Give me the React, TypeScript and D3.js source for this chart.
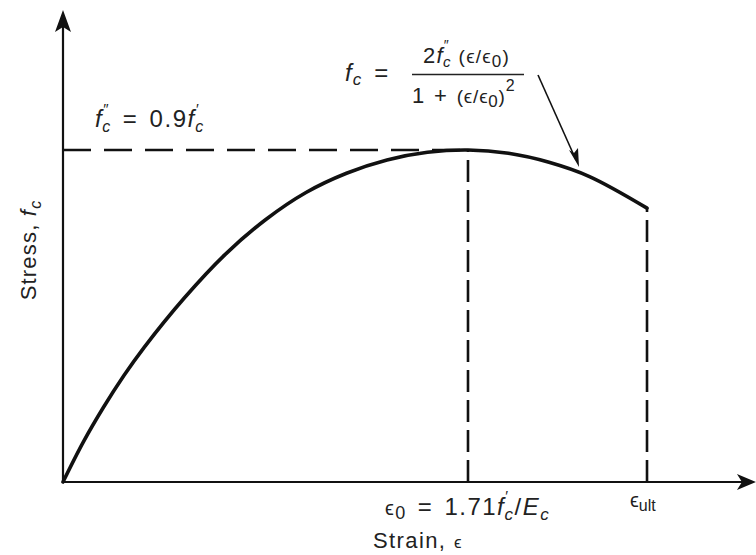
import React from "react";
import * as d3 from "d3";

// Normalised strain (ε/ε0) and stress (fc/f″c) along the curve
const strainRatio = [0, 0.05, 0.1, 0.15, 0.2, 0.3, 0.4, 0.5, 0.6, 0.7, 0.8, 0.9, 1.0, 1.1, 1.2, 1.3, 1.442];
const stressRatio = [0, 0.12, 0.225, 0.32, 0.405, 0.555, 0.685, 0.79, 0.872, 0.93, 0.97, 0.993, 1.0, 0.99, 0.963, 0.92, 0.825];

const peakStrain = 1.0;
const peakStress = 1.0;
const ultStrain = 1.442;
const ultStress = 0.825;

const xAxisMax = 1.711;
const yAxisMax = 1.422;

const W = 756;
const H = 555;

const FONT = "'Liberation Sans', Arial, Helvetica, sans-serif";
const EPS = "\u03F5";

export default function App() {
  const x = d3.scaleLinear().domain([0, 1]).range([63, 468]);
  const y = d3.scaleLinear().domain([0, 1]).range([482, 150]);

  const pts: [number, number][] = strainRatio.map((r, i) => [r, stressRatio[i]]);
  const line = d3
    .line<[number, number]>()
    .x((d) => x(d[0]))
    .y((d) => y(d[1]))
    .curve(d3.curveCatmullRom.alpha(0.5));

  const x0 = x(0);
  const y0 = y(0);
  const xEnd = x(xAxisMax);
  const yTop = y(yAxisMax);

  const ink = "#111";
  const txt = "#222";

  return (
    <svg
      width={W}
      height={H}
      viewBox={`0 0 ${W} ${H}`}
      style={{ position: "absolute", left: 0, top: 0, background: "#fff" }}
      fontFamily={FONT}
    >
      <rect width={W} height={H} fill="#fff" />

      {/* axes */}
      <line x1={x0} y1={y0} x2={xEnd - 12} y2={y0} stroke={ink} strokeWidth={2.2} />
      <line x1={x0} y1={y0} x2={x0} y2={yTop + 12} stroke={ink} strokeWidth={2.2} />
      <path
        d={`M${xEnd},${y0} L${xEnd - 19},${y0 - 8} L${xEnd - 14},${y0} L${xEnd - 19},${y0 + 8} Z`}
        fill={ink}
      />
      <path
        d={`M${x0},${yTop} L${x0 - 8},${yTop + 22} L${x0},${yTop + 17} L${x0 + 8},${yTop + 22} Z`}
        fill={ink}
      />

      {/* reference dashed lines */}
      <line
        x1={x0}
        y1={y(peakStress)}
        x2={x(peakStrain)}
        y2={y(peakStress)}
        stroke={ink}
        strokeWidth={2.6}
        strokeDasharray="28 13"
      />
      <line
        x1={x(peakStrain)}
        y1={y0}
        x2={x(peakStrain)}
        y2={y(peakStress)}
        stroke={ink}
        strokeWidth={2.6}
        strokeDasharray="22 8"
      />
      <line
        x1={x(ultStrain)}
        y1={y0}
        x2={x(ultStrain)}
        y2={y(ultStress)}
        stroke={ink}
        strokeWidth={2.6}
        strokeDasharray="22 8"
      />

      {/* stress-strain curve */}
      <path d={line(pts) ?? ""} fill="none" stroke={ink} strokeWidth={3.6} strokeLinecap="round" />

      {/* leader arrow from the equation to the curve */}
      <line x1={538} y1={75} x2={576} y2={160} stroke={ink} strokeWidth={1.6} />
      <path d="M579,167 L569,150 L574,153 L578,148 Z" fill={ink} />

      {/* peak stress label */}
      <text x={95} y={127} fontSize={24} fill={txt} letterSpacing={1.6}>
        <tspan fontStyle="italic">f</tspan>
        <tspan fontSize={15} dy={-13}>″</tspan>
        <tspan fontStyle="italic" fontSize={16} dx={-8} dy={18}>c</tspan>
        <tspan dy={-5} dx={11}>=</tspan>
        <tspan dx={11}>0.9</tspan>
        <tspan fontStyle="italic">f</tspan>
        <tspan fontSize={15} dy={-13}>′</tspan>
        <tspan fontStyle="italic" fontSize={16} dx={-5} dy={18}>c</tspan>
      </text>

      {/* equation */}
      <text x={345} y={81} fontSize={24} fill={txt} letterSpacing={1}>
        <tspan fontStyle="italic">f</tspan>
        <tspan fontStyle="italic" fontSize={17} dy={4}>c</tspan>
        <tspan dy={-4} dx={12}>=</tspan>
      </text>
      <text x={423} y={63} fontSize={22} fill={txt} letterSpacing={1.2}>
        <tspan>2</tspan>
        <tspan fontStyle="italic">f</tspan>
        <tspan fontSize={14} dy={-13}>″</tspan>
        <tspan fontStyle="italic" fontSize={15} dx={-7} dy={17}>c</tspan>
        <tspan fontSize={19} dy={-4} dx={7}>({EPS}/{EPS}</tspan>
        <tspan fontSize={17} dy={4}>0</tspan>
        <tspan fontSize={19} dy={-4}>)</tspan>
      </text>
      <line x1={412} y1={74.5} x2={524} y2={74.5} stroke={txt} strokeWidth={1.4} />
      <text x={412} y={103} fontSize={22} fill={txt} letterSpacing={0.8}>
        <tspan>1</tspan>
        <tspan dx={9}>+</tspan>
        <tspan fontSize={19} dx={9}>({EPS}/{EPS}</tspan>
        <tspan fontSize={17} dy={4}>0</tspan>
        <tspan fontSize={19} dy={-4}>)</tspan>
        <tspan fontSize={16} dy={-12}>2</tspan>
      </text>

      {/* axis annotations */}
      <text x={385} y={515} fontSize={24} fill={txt} letterSpacing={1.5}>
        <tspan fontSize={20}>{EPS}</tspan>
        <tspan fontSize={18} dy={4}>0</tspan>
        <tspan dy={-4} dx={11}>=</tspan>
        <tspan dx={11}>1.71</tspan>
        <tspan fontStyle="italic">f</tspan>
        <tspan fontSize={15} dy={-14}>′</tspan>
        <tspan fontStyle="italic" fontSize={17} dx={-5} dy={19}>c</tspan>
        <tspan dy={-5}>/</tspan>
        <tspan fontStyle="italic">E</tspan>
        <tspan fontStyle="italic" fontSize={17} dy={5}>c</tspan>
      </text>
      <text x={630} y={507} fontSize={20} fill={txt}>
        <tspan>{EPS}</tspan>
        <tspan fontSize={16} dy={4}>ult</tspan>
      </text>

      <text x={373} y={548} fontSize={22} fill={txt} letterSpacing={1.4}>
        Strain, <tspan fontSize={17}>{EPS}</tspan>
      </text>

      <text
        transform={`translate(36, 250) rotate(-90)`}
        textAnchor="middle"
        fontSize={22}
        fill={txt}
        letterSpacing={1.2}
      >
        Stress, <tspan fontStyle="italic">f</tspan>
        <tspan fontStyle="italic" fontSize={16} dy={5}>c</tspan>
      </text>
    </svg>
  );
}
